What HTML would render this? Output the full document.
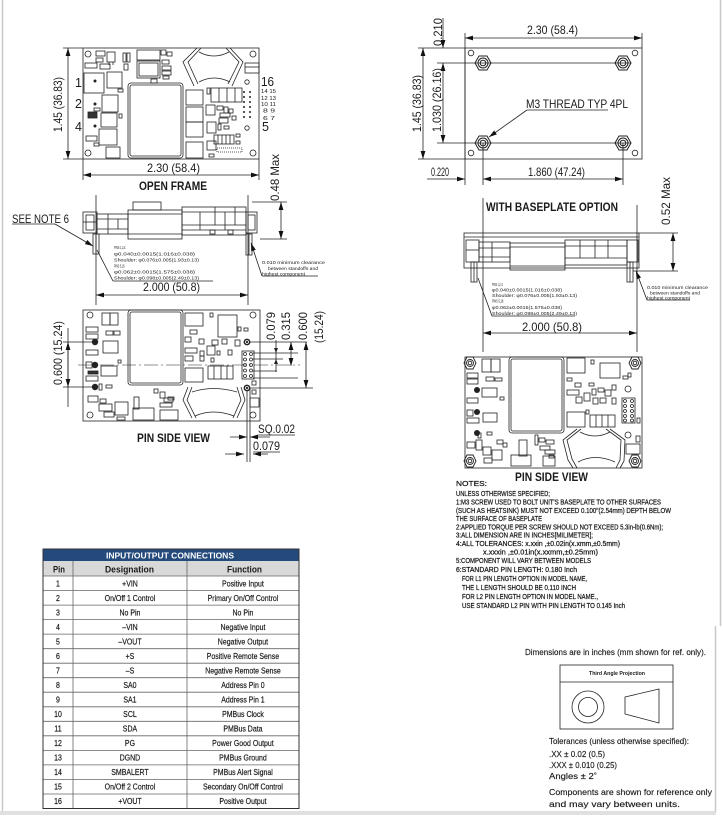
<!DOCTYPE html>
<html><head><meta charset="utf-8"><style>
html,body{margin:0;padding:0;background:#fff}
svg{display:block}
text{font-family:"Liberation Sans",sans-serif;fill:#1a1a1a}
.d{font-size:12px}
.b{font-weight:bold}
.s{font-size:4.6px}
.n{font-size:7.4px}
.n text{stroke:#1a1a1a;stroke-width:0.25}
.t{font-size:8.5px}
.t text{stroke:#1a1a1a;stroke-width:0.2}
.r{font-size:8.2px}
.k text{stroke:#1a1a1a;stroke-width:0.15}
</style></head><body>
<svg width="723" height="819" viewBox="0 0 723 819" xmlns="http://www.w3.org/2000/svg">
<defs>
<marker id="a" viewBox="0 0 10 6" refX="10" refY="3" markerWidth="8" markerHeight="4.8" orient="auto-start-reverse" markerUnits="userSpaceOnUse"><path d="M0,0L10,3L0,6z" fill="#111"/></marker>
</defs>

<!-- page frame -->
<line x1="2.5" y1="0" x2="2.5" y2="812" stroke="#c8c8c8" stroke-width="1.5"/>
<line x1="720.5" y1="0" x2="720.5" y2="626" stroke="#c8c8c8" stroke-width="1.5"/>
<line x1="715.5" y1="626" x2="715.5" y2="813" stroke="#c8c8c8" stroke-width="1.5"/>
<rect x="0" y="811" width="716" height="4" fill="#e0e0e0"/>

<g fill="none" stroke="#222" stroke-width="0.8">
<!-- ===== OPEN FRAME TOP VIEW ===== -->
<rect x="83" y="48" width="176" height="111"/>
<circle cx="88" cy="54" r="3"/><circle cx="253" cy="54" r="3"/><circle cx="88" cy="153" r="3"/><circle cx="253" cy="153" r="3"/>
<rect x="96" y="51" width="9" height="5"/><rect x="96" y="58" width="7" height="4"/>
<rect x="107" y="52" width="8" height="10"/><line x1="109" y1="62" x2="109" y2="65"/><line x1="113" y1="62" x2="113" y2="65"/>
<rect x="123" y="53" width="3" height="9"/><rect x="127" y="53" width="3" height="9"/><rect x="124" y="64" width="4" height="6"/>
<rect x="137" y="50" width="23" height="10"/><rect x="137" y="61" width="23" height="17"/><rect x="139" y="63" width="19" height="13"/>
<rect x="161" y="50" width="5" height="5"/><rect x="167" y="52" width="5" height="4"/><rect x="162" y="60" width="7" height="4"/><rect x="162" y="66" width="9" height="4"/><rect x="162" y="71" width="9" height="4"/><rect x="163" y="76" width="6" height="3"/>
<rect x="85" y="63" width="12" height="5"/><rect x="100" y="64" width="10" height="5"/>
<rect x="84" y="73" width="20" height="20"/>
<rect x="107" y="72" width="15" height="16"/><rect x="118" y="89" width="5" height="3"/>
<rect x="102" y="95" width="16" height="17"/><rect x="94" y="108" width="6" height="3"/>
<rect x="88" y="112" width="9" height="6" fill="#333"/>
<rect x="101" y="113" width="16" height="14"/><rect x="119" y="114" width="3" height="4"/>
<rect x="99" y="129" width="18" height="16"/><rect x="86" y="136" width="11" height="5"/><rect x="94" y="143" width="5" height="3"/>
<rect x="106" y="147" width="14" height="11"/>
<rect x="128" y="83" width="55" height="75" rx="3"/><rect x="130" y="85" width="51" height="71" rx="2"/>
<rect x="151" y="79" width="6" height="4"/>
<path d="M197,48 L183,62 L194,86 M201,48 L188,62 L198,84 M230,48 L243,62 L232,86 M226,48 L239,62 L228,84 M199,52 Q214,60 229,52 M199,82 Q214,74 230,82"/>
<rect x="245" y="63" width="14" height="10"/><line x1="245" y1="67" x2="259" y2="67"/>
<circle cx="247" cy="82" r="2.2"/><circle cx="247" cy="128" r="2.2"/>
<rect x="186" y="90" width="17" height="15"/><rect x="186" y="107" width="17" height="15"/><rect x="186" y="122" width="17" height="15"/><rect x="186" y="142" width="17" height="16"/>
<rect x="207" y="88" width="3" height="6"/>
<rect x="211" y="88" width="31" height="14"/><line x1="219" y1="88" x2="219" y2="102"/><line x1="227" y1="88" x2="227" y2="102"/><line x1="235" y1="88" x2="235" y2="102"/>
<rect x="206" y="105" width="9" height="10"/><rect x="217" y="106" width="6" height="4"/><rect x="224" y="107" width="4" height="6"/><rect x="229" y="109" width="4" height="4"/><rect x="220" y="113" width="10" height="4"/>
<rect x="219" y="118" width="9" height="5"/><rect x="232" y="116" width="4" height="4"/>
<rect x="207" y="122" width="9" height="11"/><rect x="218" y="124" width="3" height="6"/><rect x="224" y="126" width="5" height="3"/>
<rect x="236" y="134" width="4" height="3"/><rect x="236" y="141" width="4" height="3"/>
<rect x="214" y="135" width="20" height="9"/><line x1="218" y1="135" x2="218" y2="144"/><line x1="222" y1="135" x2="222" y2="144"/><line x1="226" y1="135" x2="226" y2="144"/><line x1="230" y1="135" x2="230" y2="144"/>
<rect x="207" y="141" width="9" height="9"/>
<rect x="217" y="148" width="25" height="4" stroke-dasharray="1,1"/>
<rect x="209" y="154" width="5" height="3"/>
<!-- dims -->
<line x1="63" y1="48" x2="83" y2="48"/><line x1="63" y1="159" x2="83" y2="159"/>
<line x1="68" y1="48" x2="68" y2="159" marker-start="url(#a)" marker-end="url(#a)"/>
<line x1="83" y1="159" x2="83" y2="180"/><line x1="259" y1="159" x2="259" y2="180"/>
<line x1="83" y1="175" x2="259" y2="175" marker-start="url(#a)" marker-end="url(#a)"/>

<!-- ===== OPEN FRAME SIDE VIEW ===== -->
<line x1="96" y1="195" x2="96" y2="305"/><line x1="248" y1="195" x2="248" y2="305"/>
<rect x="83" y="212" width="14" height="21"/><rect x="86" y="215" width="8" height="15"/><line x1="83" y1="222" x2="97" y2="222"/>
<rect x="97" y="214" width="31" height="20"/><line x1="97" y1="219" x2="128" y2="219"/><line x1="97" y1="229" x2="128" y2="229"/><line x1="108" y1="214" x2="108" y2="234"/><line x1="118" y1="219" x2="118" y2="229"/>
<rect x="128" y="210" width="54" height="29"/><line x1="128" y1="214" x2="182" y2="214"/><line x1="128" y1="234" x2="182" y2="234"/>
<rect x="133" y="202" width="28" height="8"/>
<rect x="182" y="207" width="64" height="28"/><line x1="182" y1="212" x2="246" y2="212"/><line x1="182" y1="225" x2="246" y2="225"/><line x1="182" y1="230" x2="246" y2="230"/>
<line x1="200" y1="212" x2="200" y2="230"/><line x1="215" y1="207" x2="215" y2="225"/><line x1="225" y1="212" x2="225" y2="230"/><line x1="235" y1="207" x2="235" y2="225"/>
<rect x="210" y="230" width="5" height="4"/><rect x="228" y="230" width="5" height="4"/>
<rect x="246" y="212" width="11" height="21"/><rect x="248" y="215" width="7" height="15"/>
<rect x="93" y="234" width="6" height="20"/><line x1="96" y1="234" x2="96" y2="254"/>
<rect x="246" y="234" width="6" height="21"/><line x1="249" y1="234" x2="249" y2="255"/>
<line x1="252" y1="202" x2="287" y2="202"/><line x1="260" y1="239" x2="287" y2="239"/>
<line x1="281" y1="202" x2="281" y2="239" marker-start="url(#a)" marker-end="url(#a)"/>
<line x1="12" y1="224" x2="55" y2="224"/><line x1="55" y1="224" x2="93" y2="246" marker-end="url(#a)"/>
<line x1="113" y1="281" x2="213" y2="281"/><line x1="113" y1="281" x2="97" y2="250"/>
<line x1="262" y1="276" x2="318" y2="276"/><line x1="262" y1="276" x2="251" y2="243" marker-end="url(#a)"/>
<line x1="96" y1="295" x2="248" y2="295" marker-start="url(#a)" marker-end="url(#a)"/>

<!-- ===== LEFT PIN SIDE VIEW ===== -->
<rect x="83" y="310" width="177" height="111"/>
<circle cx="90" cy="315" r="3"/><circle cx="253" cy="315" r="3"/><circle cx="90" cy="415" r="3"/><circle cx="253" cy="415" r="3"/>
<rect x="128" y="310" width="55" height="75" rx="3"/><rect x="130" y="312" width="51" height="71" rx="2"/>
<rect x="102" y="313" width="8" height="12"/><rect x="110" y="313" width="8" height="12"/>
<rect x="86" y="327" width="12" height="5"/><rect x="86" y="334" width="12" height="5"/>
<rect x="106" y="331" width="7" height="4"/><rect x="114" y="331" width="6" height="4"/>
<rect x="103" y="341" width="15" height="12"/><rect x="86" y="350" width="12" height="5"/>
<rect x="118" y="360" width="3" height="3"/>
<rect x="86" y="362" width="6" height="6"/><rect x="101" y="366" width="16" height="10"/><rect x="88" y="371" width="10" height="3" fill="#333"/><rect x="86" y="376" width="12" height="5"/>
<rect x="99" y="384" width="3" height="6"/><rect x="106" y="385" width="6" height="3"/>
<rect x="88" y="396" width="10" height="6"/><rect x="100" y="399" width="6" height="4"/>
<rect x="115" y="402" width="13" height="13"/><rect x="99" y="404" width="13" height="7"/><rect x="104" y="412" width="10" height="5"/>
<rect x="117" y="417" width="8" height="3"/>
<rect x="134" y="397" width="5" height="12"/><rect x="133" y="408" width="21" height="12"/>
<rect x="154" y="389" width="4" height="4"/><rect x="160" y="392" width="5" height="6"/><rect x="164" y="398" width="9" height="4"/><rect x="160" y="403" width="12" height="4"/><rect x="168" y="397" width="6" height="3"/>
<rect x="160" y="410" width="18" height="10"/>
<rect x="185" y="313" width="18" height="13"/><rect x="190" y="330" width="7" height="4"/>
<rect x="210" y="313" width="3" height="4"/><rect x="218" y="315" width="19" height="22"/>
<rect x="238" y="327" width="3" height="4"/><rect x="244" y="328" width="4" height="3"/>
<rect x="185" y="337" width="6" height="5"/><rect x="199" y="339" width="5" height="5"/><rect x="212" y="340" width="6" height="5"/><rect x="222" y="339" width="5" height="5"/><rect x="235" y="340" width="5" height="6"/>
<rect x="185" y="348" width="12" height="5"/><rect x="200" y="351" width="4" height="5"/><rect x="207" y="346" width="8" height="9"/><rect x="217" y="351" width="3" height="4"/><rect x="228" y="350" width="4" height="5"/>
<rect x="185" y="356" width="8" height="5"/><rect x="200" y="356" width="4" height="5"/><rect x="211" y="358" width="3" height="4"/>
<rect x="185" y="368" width="18" height="14"/>
<rect x="208" y="366" width="25" height="13"/><line x1="214" y1="366" x2="214" y2="379"/><line x1="221" y1="366" x2="221" y2="379"/><line x1="227" y1="366" x2="227" y2="379"/>
<rect x="252" y="381" width="4" height="4"/><rect x="252" y="390" width="4" height="4"/>
<path d="M188,387 L183,400 L192,418 M192,387 L187,400 L196,418 M241,387 L245,400 L237,418 M237,387 L241,400 L233,418 M192,392 Q213,385 237,392 M195,416 Q213,408 234,416"/>
<rect x="250" y="398" width="9" height="9"/>
<line x1="63" y1="342" x2="95" y2="342"/><line x1="63" y1="387" x2="95" y2="387"/>
<line x1="68" y1="328" x2="68" y2="407"/>
<line x1="68" y1="365" x2="68" y2="342" marker-end="url(#a)"/><line x1="68" y1="365" x2="68" y2="387" marker-end="url(#a)"/>
<line x1="78" y1="365" x2="300" y2="365" stroke-dasharray="14,3,2,3" stroke-width="0.6"/>
<line x1="247" y1="342" x2="307" y2="342"/><line x1="253" y1="353" x2="298" y2="353"/><line x1="253" y1="359" x2="283" y2="359"/><line x1="253" y1="371" x2="277" y2="371"/><line x1="253" y1="378" x2="298" y2="378"/><line x1="247" y1="388" x2="313" y2="388"/>
<line x1="276" y1="340" x2="276" y2="372"/>
<line x1="291" y1="342" x2="291" y2="366" marker-start="url(#a)" marker-end="url(#a)"/>
<line x1="306" y1="342" x2="306" y2="388" marker-start="url(#a)" marker-end="url(#a)"/>
<line x1="247" y1="388" x2="247" y2="462"/><line x1="250" y1="388" x2="250" y2="462"/>
<line x1="258" y1="435" x2="295" y2="435"/><line x1="230" y1="437" x2="247" y2="437" marker-end="url(#a)"/><line x1="270" y1="437" x2="250" y2="437" marker-end="url(#a)"/>
<line x1="253" y1="452" x2="280" y2="452"/><line x1="225" y1="454" x2="244" y2="454" marker-end="url(#a)"/><line x1="268" y1="454" x2="253" y2="454" marker-end="url(#a)"/>
</g>
<g fill="#222">
<circle cx="95" cy="81" r="1.5"/><circle cx="95" cy="104" r="1.5"/><circle cx="95" cy="126" r="1.5"/>
<circle cx="244" cy="92" r="1"/><circle cx="250" cy="92" r="1"/><circle cx="244" cy="97" r="1"/><circle cx="250" cy="97" r="1"/><circle cx="244" cy="102" r="1"/><circle cx="250" cy="102" r="1"/><circle cx="244" cy="107" r="1"/><circle cx="250" cy="107" r="1"/><circle cx="244" cy="112" r="1"/><circle cx="250" cy="112" r="1"/><circle cx="244" cy="117" r="1"/><circle cx="250" cy="117" r="1"/>
<circle cx="95" cy="342" r="3.2"/><circle cx="95" cy="365" r="3.2"/><circle cx="95" cy="387" r="3.2"/>
<circle cx="247" cy="342" r="3.4"/><circle cx="247" cy="388" r="3.4"/>
<path d="M276,353 l-2,-5 l4,0z M276,359 l-2,5 l4,0z"/>
</g>
<g fill="none" stroke="#222" stroke-width="0.8">
<circle cx="247" cy="342" r="1.5" stroke="#fff"/><circle cx="247" cy="388" r="1.5" stroke="#fff"/>
<rect x="242" y="351" width="12" height="28"/>
<circle cx="245" cy="354" r="1.5"/><circle cx="251" cy="354" r="1.5"/><circle cx="245" cy="359.5" r="1.5"/><circle cx="251" cy="359.5" r="1.5"/><circle cx="245" cy="365" r="1.5"/><circle cx="251" cy="365" r="1.5"/><circle cx="245" cy="370.5" r="1.5"/><circle cx="251" cy="370.5" r="1.5"/><circle cx="245" cy="376" r="1.5"/><circle cx="251" cy="376" r="1.5"/>

<!-- ===== BASEPLATE TOP VIEW ===== -->
<rect x="465" y="48" width="177" height="111"/>
<circle cx="471" cy="53" r="2.8"/><circle cx="635" cy="53" r="2.8"/><circle cx="471" cy="153" r="2.8"/><circle cx="635" cy="153" r="2.8"/>
<g stroke-width="1">
<path d="M475,63 L479,56 L487,56 L491,63 L487,70 L479,70z"/><circle cx="483" cy="63" r="5"/><circle cx="483" cy="63" r="2.8"/>
<path d="M615,63 L619,56 L627,56 L631,63 L627,70 L619,70z"/><circle cx="623" cy="63" r="5"/><circle cx="623" cy="63" r="2.8"/>
<path d="M475,143 L479,136 L487,136 L491,143 L487,150 L479,150z"/><circle cx="483" cy="143" r="5"/><circle cx="483" cy="143" r="2.8"/>
<path d="M615,143 L619,136 L627,136 L631,143 L627,150 L619,150z"/><circle cx="623" cy="143" r="5"/><circle cx="623" cy="143" r="2.8"/>
</g>
<line x1="465" y1="33" x2="465" y2="185"/><line x1="642" y1="33" x2="642" y2="48"/>
<line x1="465" y1="38" x2="642" y2="38" marker-start="url(#a)" marker-end="url(#a)"/>
<line x1="418" y1="48" x2="465" y2="48"/><line x1="418" y1="159" x2="465" y2="159"/>
<line x1="437" y1="63" x2="631" y2="63"/><line x1="437" y1="143" x2="631" y2="143"/>
<line x1="423" y1="48" x2="423" y2="159" marker-start="url(#a)" marker-end="url(#a)"/>
<line x1="443" y1="63" x2="443" y2="143" marker-start="url(#a)" marker-end="url(#a)"/>
<line x1="443" y1="18" x2="443" y2="48" marker-end="url(#a)"/>
<line x1="483" y1="143" x2="483" y2="185"/><line x1="623" y1="143" x2="623" y2="185"/>
<line x1="427" y1="179" x2="465" y2="179" marker-end="url(#a)"/>
<line x1="483" y1="179" x2="623" y2="179" marker-start="url(#a)" marker-end="url(#a)"/>
<line x1="527" y1="110" x2="608" y2="110"/><line x1="527" y1="110" x2="489" y2="137" marker-end="url(#a)"/>

<!-- ===== BASEPLATE SIDE VIEW ===== -->
<line x1="483" y1="198" x2="483" y2="352"/><line x1="637" y1="205" x2="637" y2="352"/>
<rect x="464" y="233" width="175" height="35"/><line x1="464" y1="237" x2="639" y2="237"/>
<line x1="639" y1="233" x2="678" y2="233"/><line x1="633" y1="271" x2="678" y2="271"/>
<line x1="673" y1="233" x2="673" y2="271" marker-start="url(#a)" marker-end="url(#a)"/>
<rect x="466" y="240" width="13" height="22"/><line x1="466" y1="250" x2="479" y2="250"/>
<rect x="479" y="242" width="31" height="20"/><line x1="479" y1="248" x2="510" y2="248"/><line x1="479" y1="257" x2="510" y2="257"/><line x1="492" y1="242" x2="492" y2="262"/>
<rect x="510" y="243" width="55" height="27"/><line x1="510" y1="247" x2="565" y2="247"/><line x1="510" y1="266" x2="565" y2="266"/>
<rect x="565" y="240" width="62" height="25"/><line x1="565" y1="246" x2="627" y2="246"/><line x1="565" y1="258" x2="627" y2="258"/>
<line x1="580" y1="240" x2="580" y2="258"/><line x1="595" y1="240" x2="595" y2="258"/><line x1="608" y1="240" x2="608" y2="258"/>
<rect x="627" y="240" width="11" height="22"/>
<rect x="471" y="262" width="6" height="20"/><line x1="474" y1="262" x2="474" y2="282"/>
<rect x="627" y="262" width="6" height="20"/><line x1="630" y1="262" x2="630" y2="282"/>
<line x1="492" y1="316" x2="575" y2="316"/><line x1="492" y1="316" x2="478" y2="278"/>
<line x1="647" y1="300" x2="690" y2="300"/><line x1="647" y1="300" x2="636" y2="271" marker-end="url(#a)"/>
<line x1="483" y1="333" x2="637" y2="333" marker-start="url(#a)" marker-end="url(#a)"/>

<!-- ===== RIGHT PIN SIDE VIEW ===== -->
<rect x="465" y="357" width="177" height="111"/>
<g stroke-width="0.9">
<path d="M464,363 L467,357 L473,357 L476,363 L473,369 L467,369z"/><circle cx="470" cy="363" r="3.5"/><circle cx="470" cy="363" r="1.8"/>
<path d="M629,363 L632,357 L638,357 L641,363 L638,369 L632,369z"/><circle cx="635" cy="363" r="3.5"/><circle cx="635" cy="363" r="1.8"/>
<path d="M464,461 L467,455 L473,455 L476,461 L473,467 L467,467z"/><circle cx="470" cy="461" r="3.5"/><circle cx="470" cy="461" r="1.8"/>
<path d="M629,461 L632,455 L638,455 L641,461 L638,467 L632,467z"/><circle cx="635" cy="461" r="3.5"/><circle cx="635" cy="461" r="1.8"/>
</g>
<rect x="509" y="357" width="55" height="76" rx="3"/><rect x="511" y="359" width="51" height="72" rx="2"/>
<rect x="482" y="359" width="9" height="13"/><rect x="491" y="359" width="9" height="13"/>
<rect x="467" y="373" width="11" height="5"/><rect x="467" y="379" width="11" height="5"/>
<rect x="486" y="377" width="8" height="4"/><rect x="495" y="378" width="7" height="3"/>
<rect x="482" y="388" width="15" height="9"/><rect x="467" y="398" width="11" height="5"/>
<rect x="500" y="397" width="4" height="3"/>
<rect x="467" y="410" width="6" height="6"/><rect x="483" y="413" width="14" height="9"/><rect x="467" y="418" width="12" height="5"/>
<rect x="478" y="433" width="3" height="5"/><rect x="487" y="432" width="5" height="3"/>
<rect x="467" y="442" width="8" height="6"/><rect x="476" y="440" width="6" height="10"/>
<rect x="483" y="447" width="8" height="8"/><rect x="492" y="450" width="10" height="10"/><rect x="484" y="458" width="8" height="5"/>
<rect x="497" y="440" width="6" height="4"/><rect x="503" y="443" width="4" height="4"/>
<rect x="519" y="440" width="8" height="16"/><rect x="511" y="455" width="20" height="11"/>
<rect x="535" y="435" width="3" height="10"/><rect x="539" y="438" width="6" height="4"/><rect x="546" y="440" width="8" height="4"/><rect x="540" y="446" width="10" height="4"/><rect x="545" y="450" width="10" height="4"/><rect x="549" y="455" width="5" height="3"/>
<rect x="543" y="456" width="12" height="10"/>
<rect x="567" y="358" width="18" height="15"/><rect x="591" y="360" width="3" height="4"/>
<rect x="600" y="363" width="20" height="15"/><rect x="628" y="373" width="3" height="4"/><rect x="623" y="376" width="5" height="3"/>
<rect x="567" y="378" width="5" height="3"/><rect x="575" y="383" width="6" height="4"/><rect x="589" y="383" width="5" height="3"/>
<rect x="567" y="390" width="12" height="5"/><rect x="576" y="397" width="6" height="6"/><rect x="584" y="393" width="6" height="8"/>
<rect x="592" y="389" width="4" height="6"/><rect x="598" y="388" width="6" height="4"/><rect x="605" y="390" width="6" height="6"/><rect x="612" y="385" width="4" height="5"/>
<rect x="593" y="398" width="5" height="6"/><rect x="600" y="398" width="6" height="5"/><rect x="612" y="398" width="4" height="6"/>
<rect x="586" y="410" width="3" height="4"/>
<rect x="567" y="412" width="18" height="15"/>
<rect x="590" y="415" width="25" height="12"/><line x1="596" y1="415" x2="596" y2="427"/><line x1="602" y1="415" x2="602" y2="427"/><line x1="608" y1="415" x2="608" y2="427"/>
<rect x="637" y="418" width="3" height="5"/><rect x="636" y="436" width="4" height="6"/>
<rect x="626" y="444" width="14" height="10"/>
<path d="M577,429 L563,440 L568,460 L573,468 M581,429 L567,440 L572,459 L577,468 M610,429 L625,440 L624,461 L620,468 M606,429 L621,440 L620,460 L616,468 M580,432 Q595,440 610,432 M578,462 Q595,453 615,462"/>
<rect x="622" y="398" width="13" height="25"/>
<circle cx="625" cy="401" r="1.5"/><circle cx="632" cy="401" r="1.5"/><circle cx="625" cy="406" r="1.5"/><circle cx="632" cy="406" r="1.5"/><circle cx="625" cy="411" r="1.5"/><circle cx="632" cy="411" r="1.5"/><circle cx="625" cy="416" r="1.5"/><circle cx="632" cy="416" r="1.5"/><circle cx="625" cy="420.5" r="1.5"/><circle cx="632" cy="420.5" r="1.5"/>
<circle cx="628" cy="389" r="3"/><circle cx="628" cy="435" r="3"/>

<!-- projection box -->
<rect x="560" y="665" width="113" height="64"/>
<line x1="560" y1="682" x2="673" y2="682"/>
<circle cx="588" cy="707" r="16"/><circle cx="588" cy="707" r="9.5"/>
<path d="M625,697 L659,689 L659,723 L625,714z"/>
</g>
<g fill="#222">
<circle cx="477" cy="390" r="3"/><circle cx="477" cy="412" r="3"/><circle cx="477" cy="433" r="3"/>
</g>

<!-- ===== TEXT ===== -->
<text class="d" transform="translate(62,132) rotate(-90)" textLength="55" lengthAdjust="spacingAndGlyphs">1.45 (36.83)</text>
<text class="d" x="147" y="172" textLength="53" lengthAdjust="spacingAndGlyphs">2.30 (58.4)</text>
<text class="d b" x="139" y="190" textLength="68" lengthAdjust="spacingAndGlyphs">OPEN FRAME</text>
<text class="d" transform="translate(279,201) rotate(-90)" textLength="47" lengthAdjust="spacingAndGlyphs">0.48 Max</text>
<text style="font-size:12.5px" x="75" y="87">1</text>
<text style="font-size:12.5px" x="75" y="108">2</text>
<text style="font-size:12.5px" x="75" y="131">4</text>
<text style="font-size:12.5px" x="261" y="86" textLength="13" lengthAdjust="spacingAndGlyphs">16</text>
<text style="font-size:12.5px" x="262" y="131">5</text>
<g style="font-size:5.5px">
<text x="261" y="93" textLength="15" lengthAdjust="spacingAndGlyphs">14 15</text>
<text x="261" y="100" textLength="15" lengthAdjust="spacingAndGlyphs">12 13</text>
<text x="261" y="106" textLength="15" lengthAdjust="spacingAndGlyphs">10 11</text>
<text x="263" y="112.5" textLength="12" lengthAdjust="spacingAndGlyphs">8  9</text>
<text x="263" y="120" textLength="12" lengthAdjust="spacingAndGlyphs">6  7</text>
</g>

<text class="d" x="12" y="223" textLength="57" lengthAdjust="spacingAndGlyphs">SEE NOTE 6</text>
<g class="s">
<text x="114" y="249" textLength="12" lengthAdjust="spacingAndGlyphs">PINS 1,2,4:</text>
<text x="114" y="255.5" textLength="81" lengthAdjust="spacingAndGlyphs">φ0.040±0.0015(1.016±0.038)</text>
<text x="114" y="261.5" textLength="85" lengthAdjust="spacingAndGlyphs">Shoulder: φ0.076±0.005(1.93±0.13)</text>
<text x="114" y="267.5" textLength="11" lengthAdjust="spacingAndGlyphs">PINS 5,16:</text>
<text x="114" y="273.5" textLength="81" lengthAdjust="spacingAndGlyphs">φ0.062±0.0015(1.575±0.038)</text>
<text x="114" y="279.5" textLength="85" lengthAdjust="spacingAndGlyphs">Shoulder: φ0.098±0.005(2.49±0.13)</text>
<text x="262" y="264" textLength="63" lengthAdjust="spacingAndGlyphs">0.010 minimum clearance</text>
<text x="268" y="270" textLength="50" lengthAdjust="spacingAndGlyphs">between standoffs and</text>
<text x="262" y="275.5" textLength="43" lengthAdjust="spacingAndGlyphs">highest component</text>

<text x="492" y="286" textLength="11" lengthAdjust="spacingAndGlyphs">PINS 1,2,4:</text>
<text x="492" y="291.5" textLength="70" lengthAdjust="spacingAndGlyphs">φ0.040±0.0015(1.016±0.038)</text>
<text x="492" y="297" textLength="85" lengthAdjust="spacingAndGlyphs">Shoulder: φ0.076±0.005(1.93±0.13)</text>
<text x="492" y="302.5" textLength="12" lengthAdjust="spacingAndGlyphs">PINS 5,16:</text>
<text x="492" y="309" textLength="70" lengthAdjust="spacingAndGlyphs">φ0.062±0.0015(1.575±0.038)</text>
<text x="492" y="315" textLength="85" lengthAdjust="spacingAndGlyphs">Shoulder: φ0.098±0.005(2.49±0.13)</text>
<text x="647" y="289" textLength="61" lengthAdjust="spacingAndGlyphs">0.010 minimum clearance</text>
<text x="650" y="294.5" textLength="50" lengthAdjust="spacingAndGlyphs">between standoffs and</text>
<text x="647" y="299.5" textLength="43" lengthAdjust="spacingAndGlyphs">highest component</text>
</g>
<text class="d" x="143" y="291" textLength="57" lengthAdjust="spacingAndGlyphs">2.000 (50.8)</text>

<text class="d" transform="translate(62,385) rotate(-90)" textLength="64" lengthAdjust="spacingAndGlyphs">0.600 (15.24)</text>
<text class="d" transform="translate(275,340) rotate(-90)" textLength="28" lengthAdjust="spacingAndGlyphs">0.079</text>
<text class="d" transform="translate(290,340) rotate(-90)" textLength="28" lengthAdjust="spacingAndGlyphs">0.315</text>
<text class="d" transform="translate(307,340) rotate(-90)" textLength="28" lengthAdjust="spacingAndGlyphs">0.600</text>
<text class="d" transform="translate(323,343) rotate(-90)" textLength="32" lengthAdjust="spacingAndGlyphs">(15.24)</text>
<text class="d" x="258" y="433" textLength="37" lengthAdjust="spacingAndGlyphs">SQ.0.02</text>
<text class="d" x="253" y="450" textLength="27" lengthAdjust="spacingAndGlyphs">0.079</text>
<text class="d b" x="137" y="442" textLength="73" lengthAdjust="spacingAndGlyphs">PIN SIDE VIEW</text>

<text class="d" transform="translate(442,46) rotate(-90)" textLength="28" lengthAdjust="spacingAndGlyphs">0.210</text>
<text class="d" x="527" y="34" textLength="51" lengthAdjust="spacingAndGlyphs">2.30 (58.4)</text>
<text class="d" transform="translate(421,132) rotate(-90)" textLength="57" lengthAdjust="spacingAndGlyphs">1.45 (36.83)</text>
<text class="d" transform="translate(441,132) rotate(-90)" textLength="64" lengthAdjust="spacingAndGlyphs">1.030 (26.16)</text>
<text class="d" x="526" y="108" textLength="102" lengthAdjust="spacingAndGlyphs">M3 THREAD TYP 4PL</text>
<text class="d" x="431" y="176" textLength="18" lengthAdjust="spacingAndGlyphs">0.220</text>
<text class="d" x="528" y="176" textLength="57" lengthAdjust="spacingAndGlyphs">1.860 (47.24)</text>
<text class="d" transform="translate(670,225) rotate(-90)" textLength="48" lengthAdjust="spacingAndGlyphs">0.52 Max</text>
<text class="d b" x="486" y="211" textLength="132" lengthAdjust="spacingAndGlyphs">WITH BASEPLATE OPTION</text>
<text class="d" x="522" y="331" textLength="60" lengthAdjust="spacingAndGlyphs">2.000 (50.8)</text>
<text class="d b" x="515" y="481" textLength="73" lengthAdjust="spacingAndGlyphs">PIN SIDE VIEW</text>

<g class="n">
<text x="456" y="486" textLength="31" lengthAdjust="spacingAndGlyphs">NOTES:</text>
<text x="456" y="496" textLength="94" lengthAdjust="spacingAndGlyphs">UNLESS OTHERWISE SPECIFIED;</text>
<text x="456" y="504.5" textLength="205" lengthAdjust="spacingAndGlyphs">1:M3 SCREW USED TO BOLT UNIT'S BASEPLATE TO OTHER SURFACES</text>
<text x="456" y="513" textLength="215" lengthAdjust="spacingAndGlyphs">(SUCH AS HEATSINK) MUST NOT EXCEED 0.100"(2.54mm) DEPTH BELOW</text>
<text x="456" y="521" textLength="86" lengthAdjust="spacingAndGlyphs">THE SURFACE OF BASEPLATE</text>
<text x="456" y="529.5" textLength="207" lengthAdjust="spacingAndGlyphs">2:APPLIED TORQUE PER SCREW SHOULD NOT EXCEED 5.3in-lb(0.6Nm);</text>
<text x="456" y="537.5" textLength="137" lengthAdjust="spacingAndGlyphs">3:ALL DIMENSION ARE IN INCHES[MILIMETER];</text>
<text x="456" y="546" textLength="164" lengthAdjust="spacingAndGlyphs">4:ALL TOLERANCES: x.xxin ,±0.02in(x.xmm,±0.5mm)</text>
<text x="483" y="554.5" textLength="115" lengthAdjust="spacingAndGlyphs">x.xxxin ,±0.01in(x.xxmm,±0.25mm)</text>
<text x="456" y="563" textLength="135" lengthAdjust="spacingAndGlyphs">5:COMPONENT WILL VARY BETWEEN MODELS</text>
<text x="456" y="572" textLength="121" lengthAdjust="spacingAndGlyphs">6:STANDARD PIN LENGTH: 0.180 Inch</text>
<text x="462" y="581" textLength="125" lengthAdjust="spacingAndGlyphs">FOR L1 PIN LENGTH OPTION IN MODEL NAME,</text>
<text x="462" y="590" textLength="114" lengthAdjust="spacingAndGlyphs">THE L LENGTH SHOULD BE 0.110 INCH</text>
<text x="462" y="599" textLength="136" lengthAdjust="spacingAndGlyphs">FOR L2 PIN LENGTH OPTION IN MODEL NAME.,</text>
<text x="462" y="608" textLength="163" lengthAdjust="spacingAndGlyphs">USE STANDARD L2 PIN WITH PIN LENGTH TO 0.145 Inch</text>
</g>

<g class="k" style="font-size:8.6px">
<text x="525" y="655" textLength="181" lengthAdjust="spacingAndGlyphs">Dimensions are in inches (mm shown for ref. only).</text>
<text x="549" y="744" textLength="140" lengthAdjust="spacingAndGlyphs">Tolerances (unless otherwise specified):</text>
<text x="549" y="757" textLength="56" lengthAdjust="spacingAndGlyphs">.XX ± 0.02 (0.5)</text>
<text x="549" y="768" textLength="68" lengthAdjust="spacingAndGlyphs">.XXX ± 0.010 (0.25)</text>
<text x="549" y="779" textLength="48" lengthAdjust="spacingAndGlyphs">Angles ± 2˚</text>
<text x="549" y="795" textLength="163" lengthAdjust="spacingAndGlyphs">Components are shown for reference only</text>
<text x="549" y="807" textLength="131" lengthAdjust="spacingAndGlyphs">and may vary between units.</text>
</g>
<text class="b" style="font-size:5px" x="589" y="675" textLength="56" lengthAdjust="spacingAndGlyphs">Third Angle Projection</text>

<!-- ===== TABLE ===== -->
<rect x="43" y="549" width="256" height="12" fill="#244a7c"/>
<rect x="43" y="561" width="256" height="15" fill="#d8d8d8"/>
<g stroke="#666" stroke-width="0.8" fill="none">
<line x1="43" y1="576" x2="299" y2="576"/><line x1="43" y1="590.5" x2="299" y2="590.5"/><line x1="43" y1="605.1" x2="299" y2="605.1"/><line x1="43" y1="619.6" x2="299" y2="619.6"/><line x1="43" y1="634.1" x2="299" y2="634.1"/><line x1="43" y1="648.7" x2="299" y2="648.7"/><line x1="43" y1="663.2" x2="299" y2="663.2"/><line x1="43" y1="677.7" x2="299" y2="677.7"/><line x1="43" y1="692.2" x2="299" y2="692.2"/><line x1="43" y1="706.8" x2="299" y2="706.8"/><line x1="43" y1="721.3" x2="299" y2="721.3"/><line x1="43" y1="735.8" x2="299" y2="735.8"/><line x1="43" y1="750.4" x2="299" y2="750.4"/><line x1="43" y1="764.9" x2="299" y2="764.9"/><line x1="43" y1="779.4" x2="299" y2="779.4"/><line x1="43" y1="794" x2="299" y2="794"/>
<line x1="73" y1="561" x2="73" y2="808.5"/><line x1="187" y1="561" x2="187" y2="808.5"/>
<rect x="43" y="549" width="256" height="259.5" stroke="#333" stroke-width="1"/>
</g>
<text class="b" style="font-size:8.6px;fill:#fff" x="106" y="558.5" textLength="128" lengthAdjust="spacingAndGlyphs">INPUT/OUTPUT CONNECTIONS</text>
<g class="b" style="font-size:9px">
<text x="53" y="572.5" textLength="12" lengthAdjust="spacingAndGlyphs">Pin</text>
<text x="105" y="572.5" textLength="49" lengthAdjust="spacingAndGlyphs">Designation</text>
<text x="227" y="572.5" textLength="35" lengthAdjust="spacingAndGlyphs">Function</text>
</g>
<g class="t" transform="scale(0.82,1)" text-anchor="middle">
<text x="70.7" y="586.3">1</text><text x="158.5" y="586.3">+VIN</text><text x="296.3" y="586.3">Positive Input</text>
<text x="70.7" y="600.8">2</text><text x="158.5" y="600.8">On/Off 1 Control</text><text x="296.3" y="600.8">Primary On/Off Control</text>
<text x="70.7" y="615.3">3</text><text x="158.5" y="615.3">No Pin</text><text x="296.3" y="615.3">No Pin</text>
<text x="70.7" y="629.9">4</text><text x="158.5" y="629.9">–VIN</text><text x="296.3" y="629.9">Negative Input</text>
<text x="70.7" y="644.4">5</text><text x="158.5" y="644.4">–VOUT</text><text x="296.3" y="644.4">Negative Output</text>
<text x="70.7" y="658.9">6</text><text x="158.5" y="658.9">+S</text><text x="296.3" y="658.9">Positive Remote Sense</text>
<text x="70.7" y="673.5">7</text><text x="158.5" y="673.5">–S</text><text x="296.3" y="673.5">Negative Remote Sense</text>
<text x="70.7" y="688">8</text><text x="158.5" y="688">SA0</text><text x="296.3" y="688">Address Pin 0</text>
<text x="70.7" y="702.5">9</text><text x="158.5" y="702.5">SA1</text><text x="296.3" y="702.5">Address Pin 1</text>
<text x="70.7" y="717.1">10</text><text x="158.5" y="717.1">SCL</text><text x="296.3" y="717.1">PMBus Clock</text>
<text x="70.7" y="731.6">11</text><text x="158.5" y="731.6">SDA</text><text x="296.3" y="731.6">PMBus Data</text>
<text x="70.7" y="746.1">12</text><text x="158.5" y="746.1">PG</text><text x="296.3" y="746.1">Power Good Output</text>
<text x="70.7" y="760.6">13</text><text x="158.5" y="760.6">DGND</text><text x="296.3" y="760.6">PMBus Ground</text>
<text x="70.7" y="775.2">14</text><text x="158.5" y="775.2">SMBALERT</text><text x="296.3" y="775.2">PMBus Alert Signal</text>
<text x="70.7" y="789.7">15</text><text x="158.5" y="789.7">On/Off 2 Control</text><text x="296.3" y="789.7">Secondary On/Off Control</text>
<text x="70.7" y="804.2">16</text><text x="158.5" y="804.2">+VOUT</text><text x="296.3" y="804.2">Positive Output</text>
</g>
</svg>
</body></html>
